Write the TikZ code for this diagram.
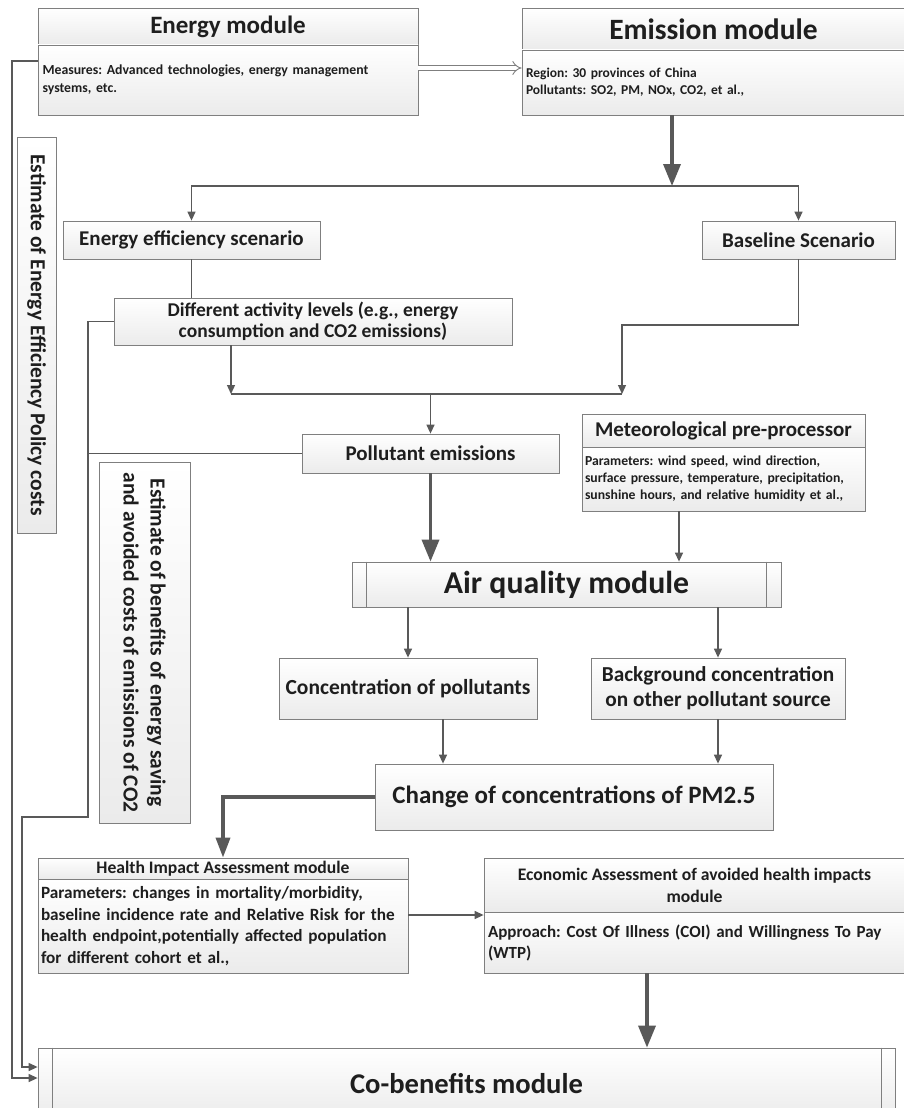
\documentclass[tikz,border=0pt]{standalone}
\usepackage{fontspec}
\setmainfont{Carlito}
\usetikzlibrary{arrows.meta,shadows,calc}
\definecolor{bordc}{HTML}{7F7F7F}
\definecolor{linec}{HTML}{595959}
\definecolor{txtc}{HTML}{1E1E1E}
\definecolor{fillb}{HTML}{EBEBEB}
\tikzset{
  box/.style={draw=bordc, line width=0.8pt, top color=white, bottom color=fillb, text=txtc, inner sep=4pt,
    drop shadow={shadow xshift=1.2pt, shadow yshift=-1.2pt, opacity=0.22}},
  conn/.style={draw=linec, line width=1.3pt},
  arr/.style={conn, -{Triangle[width=8pt,length=9pt]}},
  bigarr/.style={draw=linec, line width=3.5pt, -{Triangle[width=17pt,length=22pt]}},
  innerln/.style={draw=bordc, line width=0.8pt},
}
\begin{document}
\frenchspacing
\begin{tikzpicture}[x=1pt,y=-1pt]
\useasboundingbox[fill=white] (0,0) rectangle (904,1108);

% Energy module
\node[box, minimum width=380pt, minimum height=37pt, font=\bfseries\fontsize{25}{28}\selectfont] (eh) at (228,26.5) {Energy module};
\node[box, minimum width=380pt, minimum height=70pt, text width=371pt, inner sep=4.5pt, align=left, font=\bfseries\fontsize{13.8}{18}\selectfont] (eb) at (228,80) {Measures: Advanced technologies, energy management\\systems, etc.};

% Emission module
\node[box, minimum width=383pt, minimum height=42pt, font=\bfseries\fontsize{29.5}{32}\selectfont] (mh0) at (713.5,29) {Emission module};
\node[box, minimum width=383pt, minimum height=65pt, text width=375pt, align=left, font=\bfseries\fontsize{13.5}{17}\selectfont] (emb) at (713.5,82.5) {Region: 30 provinces of China\\Pollutants: SO2, PM, NOx, CO2, et al.,};

% Scenarios
\node[box, minimum width=257pt, minimum height=38pt, font=\bfseries\fontsize{21}{24}\selectfont] (eff) at (191.5,240) {Energy efficiency scenario};
\node[box, minimum width=193pt, minimum height=38pt, font=\bfseries\fontsize{21}{24}\selectfont] (base) at (798.5,240) {Baseline Scenario};
\node[box, minimum width=398pt, minimum height=47pt, align=center, inner sep=1pt, font=\bfseries\fontsize{19.5}{21}\selectfont] (act) at (313,321.5) {Different activity levels (e.g., energy\\consumption and CO2 emissions)};
\node[box, minimum width=257pt, minimum height=39pt, font=\bfseries\fontsize{21}{24}\selectfont] (pol) at (430.5,453.5) {Pollutant emissions};

% Meteorological
\node[box, minimum width=283pt, minimum height=33pt, inner sep=2pt, font=\bfseries\fontsize{21}{24}\selectfont] (mh) at (723.5,430.5) {Meteorological pre-processor};
\node[box, minimum width=283pt, minimum height=64pt, text width=277pt, inner sep=3pt, align=left, font=\bfseries\fontsize{13.7}{17}\selectfont] (mb) at (723.5,479) {Parameters: wind speed, wind direction,\\surface pressure, temperature, precipitation,\\sunshine hours, and relative humidity et al.,};

% Air quality
\node[box, minimum width=429pt, minimum height=45pt, font=\bfseries\fontsize{31.8}{34}\selectfont] (air) at (566.5,584.5) {Air quality module};
\draw[innerln] ([xshift=15pt]air.north west) -- ([xshift=15pt]air.south west);
\draw[innerln] ([xshift=-15pt]air.north east) -- ([xshift=-15pt]air.south east);

\node[box, minimum width=258pt, minimum height=61pt, font=\bfseries\fontsize{21.5}{24}\selectfont] (conc) at (408,688.5) {Concentration of pollutants};
\node[box, minimum width=254pt, minimum height=61pt, align=center, inner sep=1pt, font=\bfseries\fontsize{21.3}{25}\selectfont] (bg) at (718,688.5) {Background concentration\\on other pollutant source};
\node[box, minimum width=398pt, minimum height=66pt, font=\bfseries\fontsize{25}{28}\selectfont] (chg) at (574,797) {Change of concentrations of PM2.5};

% Health
\node[box, minimum width=370pt, minimum height=21pt, inner sep=0pt, font=\bfseries\fontsize{17.6}{19}\selectfont] (hh) at (223,868.5) {Health Impact Assessment module};
\node[box, minimum width=370pt, minimum height=94pt, text width=364pt, inner sep=3pt, align=left, font=\bfseries\fontsize{17.2}{21.5}\selectfont] (hb) at (223,926) {Parameters: changes in mortality/morbidity,\\baseline incidence rate and Relative Risk for the\\health endpoint,potentially affected population\\for different cohort et al.,};

% Economic
\node[box, minimum width=421pt, minimum height=54pt, align=center, inner sep=1pt, font=\bfseries\fontsize{17.6}{22}\selectfont] (ech) at (694.5,885) {Economic Assessment of avoided health impacts\\module};
\node[box, minimum width=421pt, minimum height=61pt, text width=413pt, align=left, font=\bfseries\fontsize{17}{21}\selectfont] (ecb) at (694.5,942.5) {Approach: Cost Of Illness (COI) and Willingness To Pay\\(WTP)};

% Co-benefits
\node[box, minimum width=857pt, minimum height=72pt, font=\bfseries\fontsize{28.6}{31}\selectfont] (co) at (466.5,1084) {Co-benefits module};
\draw[innerln] ([xshift=15pt]co.north west) -- ([xshift=15pt]co.south west);
\draw[innerln] ([xshift=-14pt]co.north east) -- ([xshift=-14pt]co.south east);

% Rotated boxes
\node[box, rotate=-90, minimum width=396pt, minimum height=39pt, inner sep=1pt, font=\bfseries\fontsize{21.5}{24}\selectfont] (r1) at (36.5,335) {Estimate of Energy Efficiency Policy costs};
\node[box, rotate=-90, minimum width=361pt, minimum height=91pt, align=center, inner sep=1pt, font=\bfseries\fontsize{21.5}{27}\selectfont] (r2) at (144.5,642.5) {Estimate of benefits of energy saving\\and avoided costs of emissions of CO2};

% Coordinates
\coordinate (split) at (672,186);
\coordinate (mL) at (231,394);
\coordinate (mR) at (622,394);
\coordinate (bR) at (622,325);
\coordinate (c1) at (88,817);
\coordinate (c2) at (22,1067);
\coordinate (c3) at (12,1078);

% Connectors
\draw[draw=bordc, double=white, double distance=4pt, line width=0.9pt, -{Implies}] ([yshift=12pt]eb.east) -- ([yshift=14.5pt]emb.west);
\draw[bigarr] (emb.south -| split) -- (split);
\draw[arr] (split) -| (eff.north);
\draw[arr] (split) -| (base.north);
\draw[conn] (eff.south) -- (eff.south |- act.north);
\draw[arr] (act.south -| mL) -- (mL);
\draw[arr] (base.south) |- (bR) -- (mR);
\draw[conn] (mL) -- (mR);
\draw[arr] (pol.north |- mL) -- (pol.north);
\draw[arr] (act.west) -| (c1) -| (c2) -- (co.west |- c2);
\draw[conn] (pol.west) -- (pol.west -| c1);
\draw[arr] ([yshift=19pt]eb.west) -| (c3) -- (co.west |- c3);
\draw[bigarr] (pol.south) -- (pol.south |- air.north);
\draw[arr] ([xshift=-44.5pt]mb.south) coordinate (mt) -- (mt |- air.north);
\draw[arr] (air.south -| conc.north) -- (conc.north);
\draw[arr] (air.south -| bg.north) -- (bg.north);
\draw[arr] ([xshift=35pt]conc.south) coordinate (c4) -- (c4 |- chg.north);
\draw[arr] (bg.south) -- (bg.south |- chg.north);
\draw[bigarr, -{Triangle[width=14pt,length=20pt]}] (chg.west) -| (hh.north);
\draw[arr] ([yshift=11pt]hb.east) coordinate (h1) -- (h1 -| ecb.west);
\draw[bigarr] ([xshift=-47.5pt]ecb.south) coordinate (e1) -- (e1 |- co.north);
\end{tikzpicture}
\end{document}
